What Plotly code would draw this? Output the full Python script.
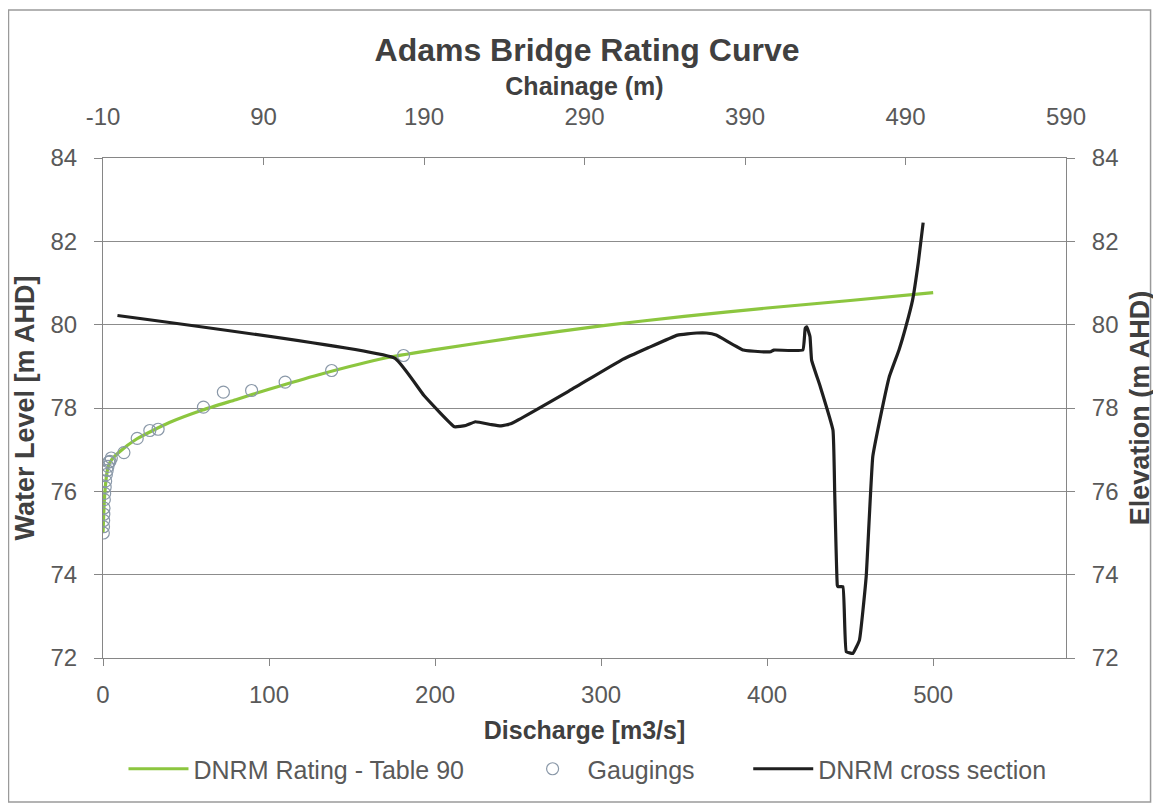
import plotly.graph_objects as go

# Rating curve (discharge m3/s, water level m AHD)
rating_q = [0, 0.3, 0.6, 1.0, 1.5, 2.2, 3.2, 5, 10, 20, 40, 60, 80, 100, 130, 170, 200, 250, 300, 350, 400, 450, 500]
rating_h = [75.0, 75.3, 75.6, 75.9, 76.15, 76.4, 76.6, 76.75, 76.95, 77.25, 77.65, 77.95, 78.2, 78.45, 78.8, 79.2, 79.4, 79.7, 79.97, 80.2, 80.4, 80.58, 80.77]

# Gaugings
gauge_q = [0.2, 0.3, 0.4, 0.5, 0.6, 0.8, 1.0, 1.3, 1.6, 2.0, 2.5, 3.0, 3.5, 4.2, 5.0,
           12.6, 20.6, 28.2, 33.2, 60.5, 72.5, 89.5, 109.7, 137.7, 181]
gauge_h = [75.0, 75.15, 75.3, 75.45, 75.6, 75.8, 75.95, 76.1, 76.25, 76.4, 76.5, 76.6, 76.7, 76.72, 76.8,
           76.93, 77.27, 77.46, 77.49, 78.02, 78.38, 78.42, 78.62, 78.9, 79.26]

# Cross section (chainage m, elevation m AHD)
xs_ch = [-1, 172, 190, 209, 216, 222, 232, 238, 244, 280, 313, 330, 348, 360, 366, 372, 389, 400, 406, 408,
         426, 427.5, 428.5, 430.5, 431.5, 437, 444.8, 445.9, 447.5, 448, 451, 453.1, 457.2, 461.3, 465.5,
         469.6, 475, 479.9, 486, 490.2, 494.4, 498, 501]
xs_el = [80.22, 79.19, 78.3, 77.55, 77.58, 77.67, 77.6, 77.57, 77.62, 78.4, 79.15, 79.45, 79.75, 79.8, 79.8, 79.75,
         79.39, 79.35, 79.35, 79.39, 79.39, 79.91, 79.95, 79.71, 79.15, 78.5, 77.47, 75.95, 73.75, 73.71, 73.71,
         72.15, 72.11, 72.43, 73.95, 76.83, 77.9, 78.75, 79.4, 79.95, 80.59, 81.5, 82.45]

# Axis ticks
discharge_ticks = [0, 100, 200, 300, 400, 500]
chainage_ticks = [-10, 90, 190, 290, 390, 490, 590]
chainage_labels = ["-10", "90", "190", "290", "390", "490", "590"]
level_ticks = [72, 74, 76, 78, 80, 82, 84]

font_family = "Liberation Sans, Arial, sans-serif"
tick_col = "#595959"
axis_col = "#868686"
grid_col = "#8c8c8c"
pad = "\u00a0" * 7

fig = go.Figure()
fig.add_trace(go.Scatter(
    x=rating_q, y=rating_h, mode="lines", name="DNRM Rating - Table 90" + pad,
    line=dict(color="#8cc63f", width=3.2, shape="spline", smoothing=0.6),
    xaxis="x", yaxis="y"))
fig.add_trace(go.Scatter(
    x=gauge_q, y=gauge_h, mode="markers", name="Gaugings" + pad,
    marker=dict(symbol="circle-open", size=12, color="#8a98a8", line=dict(width=1.2, color="#8a98a8")),
    xaxis="x", yaxis="y"))
fig.add_trace(go.Scatter(
    x=xs_ch, y=xs_el, mode="lines", name="DNRM cross section",
    line=dict(color="#1f1f1f", width=3.2, shape="spline", smoothing=0.3),
    xaxis="x2", yaxis="y2"))

tickfont = dict(family=font_family, size=24, color=tick_col)
titlefont = dict(family=font_family, size=25, color="#404040")
vtitlefont = dict(family=font_family, size=27, color="#404040")

fig.update_layout(
    width=1153, height=800,
    paper_bgcolor="white", plot_bgcolor="white",
    margin=dict(l=95, r=90, t=150, b=150),
    title=dict(text="<b>Adams Bridge Rating Curve</b>", x=(587 - 8) / 1153, xanchor="center",
               y=1 - 42 / 800, yanchor="middle",
               font=dict(family=font_family, size=32, color="#404040")),
    xaxis=dict(range=[0, 580], tickvals=discharge_ticks, ticks="outside", ticklen=7,
               tickcolor=axis_col, showline=True, linecolor=axis_col, linewidth=1,
               showgrid=False, zeroline=False, tickfont=tickfont, ticklabelstandoff=8,
               title=dict(text="<b>Discharge [m3/s]</b>", font=titlefont, standoff=14)),
    xaxis2=dict(range=[-10, 590], tickvals=chainage_ticks, ticktext=chainage_labels,
                overlaying="x", side="top", anchor="y",
                ticks="inside", ticklen=7, tickcolor=axis_col, showline=True, linecolor=axis_col,
                showgrid=False, zeroline=False, tickfont=tickfont, ticklabelstandoff=22,
                title=dict(text="<b>Chainage (m)</b>", font=titlefont, standoff=0)),
    yaxis=dict(range=[72, 84], tickvals=level_ticks, ticks="outside", ticklen=8, tickcolor=axis_col,
               showline=True, linecolor=axis_col, showgrid=True, gridcolor=grid_col, gridwidth=1,
               zeroline=False, tickfont=tickfont, ticklabelstandoff=12,
               title=dict(text="<b>Water Level [m AHD]</b>", font=vtitlefont, standoff=8)),
    yaxis2=dict(range=[72, 84], tickvals=level_ticks, overlaying="y", side="right", anchor="x",
                ticks="outside", ticklen=8, tickcolor=axis_col, showline=True, linecolor=axis_col,
                showgrid=False, zeroline=False, tickfont=tickfont, ticklabelstandoff=12,
                title=dict(text="<b>Elevation (m AHD)</b>", font=vtitlefont, standoff=12)),
    legend=dict(orientation="h", x=(590 - 103) / 968, xanchor="center", y=-0.222, yanchor="middle",
                font=dict(family=font_family, size=25, color=tick_col),
                itemwidth=60, tracegroupgap=0),
    showlegend=True,
)

# Outer chart border
fig.add_shape(type="rect", xref="paper", yref="paper",
              x0=(8 - 103) / 968, x1=(1156 - 103) / 968,
              y0=(658 - 802) / 500, y1=(658 - 10) / 500,
              line=dict(color="#9a9a9a", width=1.5), fillcolor="rgba(0,0,0,0)", layer="below")

fig.write_html("out.html")
